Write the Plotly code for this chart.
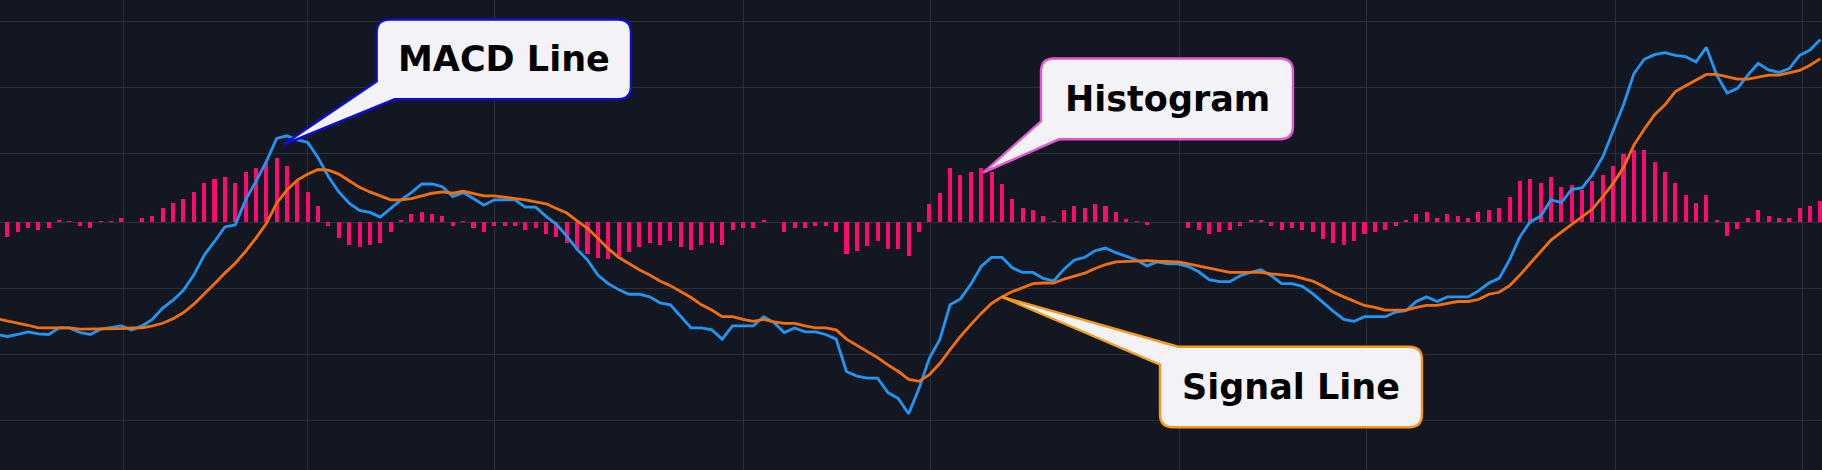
import plotly.graph_objects as go

# ---------------- data ----------------
line_index = list(range(-1, 176))
hist_index = list(range(0, 176))

macd_line = [
    -1.70, -1.73, -1.70, -1.66, -1.69, -1.70, -1.60, -1.60, -1.67, -1.70, -1.62,
    -1.59, -1.57, -1.63, -1.57, -1.47, -1.30, -1.18, -1.03, -0.80, -0.50,
    -0.29, -0.07, -0.04, 0.34, 0.62, 0.92, 1.27, 1.31, 1.25, 1.21,
    0.98, 0.69, 0.46, 0.29, 0.18, 0.15, 0.08, 0.21, 0.34, 0.45,
    0.58, 0.58, 0.54, 0.39, 0.45, 0.36, 0.26, 0.34, 0.34, 0.34,
    0.23, 0.23, 0.09, -0.03, -0.21, -0.41, -0.57, -0.80, -0.93, -1.02,
    -1.09, -1.09, -1.13, -1.22, -1.25, -1.42, -1.60, -1.60, -1.63, -1.77,
    -1.57, -1.57, -1.57, -1.43, -1.52, -1.67, -1.60, -1.66, -1.66, -1.70,
    -1.77, -2.26, -2.33, -2.36, -2.36, -2.58, -2.67, -2.90, -2.52, -2.06,
    -1.78, -1.25, -1.16, -0.94, -0.67, -0.53, -0.53, -0.69, -0.76, -0.76,
    -0.85, -0.89, -0.71, -0.57, -0.53, -0.43, -0.39, -0.46, -0.51, -0.57,
    -0.66, -0.60, -0.63, -0.63, -0.67, -0.75, -0.87, -0.90, -0.90, -0.81,
    -0.76, -0.72, -0.81, -0.93, -0.93, -0.97, -1.08, -1.22, -1.35, -1.47,
    -1.50, -1.43, -1.43, -1.43, -1.36, -1.34, -1.20, -1.13, -1.20, -1.13,
    -1.13, -1.13, -1.04, -0.92, -0.85, -0.57, -0.22, 0.01, 0.09, 0.34,
    0.30, 0.50, 0.52, 0.72, 0.99, 1.38, 1.78, 2.25, 2.47, 2.54,
    2.57, 2.53, 2.51, 2.43, 2.65, 2.23, 1.96, 2.03, 2.23, 2.41,
    2.31, 2.27, 2.33, 2.53, 2.61, 2.77,
]

signal_line = [
    -1.46, -1.49, -1.52, -1.56, -1.60, -1.60, -1.60, -1.60, -1.62, -1.62, -1.62,
    -1.62, -1.61, -1.60, -1.60, -1.57, -1.53, -1.46, -1.37, -1.24, -1.09,
    -0.93, -0.77, -0.62, -0.44, -0.24, -0.02, 0.29, 0.49, 0.64, 0.73,
    0.80, 0.79, 0.73, 0.63, 0.53, 0.46, 0.40, 0.34, 0.34, 0.36,
    0.40, 0.44, 0.46, 0.44, 0.47, 0.44, 0.40, 0.40, 0.38, 0.37,
    0.34, 0.31, 0.28, 0.21, 0.14, 0.02, -0.09, -0.24, -0.40, -0.53,
    -0.63, -0.72, -0.80, -0.89, -0.96, -1.05, -1.14, -1.25, -1.33, -1.43,
    -1.43, -1.47, -1.50, -1.47, -1.51, -1.53, -1.53, -1.57, -1.60, -1.60,
    -1.63, -1.77, -1.86, -1.95, -2.05, -2.16, -2.26, -2.38, -2.41, -2.31,
    -2.14, -1.93, -1.73, -1.55, -1.38, -1.23, -1.13, -1.05, -0.99, -0.93,
    -0.92, -0.92, -0.86, -0.81, -0.77, -0.70, -0.64, -0.60, -0.59, -0.58,
    -0.58, -0.59, -0.60, -0.60, -0.63, -0.66, -0.69, -0.73, -0.76, -0.76,
    -0.76, -0.76, -0.78, -0.79, -0.81, -0.85, -0.89, -0.97, -1.06, -1.13,
    -1.19, -1.26, -1.29, -1.33, -1.33, -1.33, -1.29, -1.26, -1.26, -1.23,
    -1.20, -1.20, -1.17, -1.09, -1.06, -0.96, -0.80, -0.62, -0.44, -0.27,
    -0.15, -0.03, 0.09, 0.20, 0.39, 0.59, 0.83, 1.17, 1.41, 1.63,
    1.78, 1.98, 2.07, 2.15, 2.24, 2.24, 2.21, 2.17, 2.17, 2.20,
    2.23, 2.23, 2.27, 2.30, 2.38, 2.48,
]

histogram = [
    -0.22, -0.14, -0.08, -0.12, -0.08, 0.03, 0.02, -0.05, -0.08, 0.02,
    0.02, 0.06, 0.00, 0.06, 0.10, 0.22, 0.29, 0.35, 0.46, 0.59,
    0.65, 0.68, 0.59, 0.76, 0.82, 0.91, 0.98, 0.85, 0.62, 0.46,
    0.25, -0.05, -0.24, -0.35, -0.38, -0.35, -0.31, -0.14, 0.03, 0.12,
    0.15, 0.12, 0.09, -0.05, 0.02, -0.08, -0.14, -0.05, -0.05, -0.05,
    -0.11, -0.08, -0.18, -0.22, -0.31, -0.42, -0.48, -0.54, -0.55, -0.51,
    -0.45, -0.38, -0.32, -0.35, -0.28, -0.38, -0.42, -0.35, -0.32, -0.35,
    -0.12, -0.08, -0.08, 0.03, 0.00, -0.14, -0.08, -0.09, -0.06, -0.06,
    -0.14, -0.48, -0.44, -0.36, -0.29, -0.41, -0.41, -0.51, -0.14, 0.28,
    0.45, 0.82, 0.72, 0.76, 0.82, 0.76, 0.58, 0.35, 0.21, 0.19,
    0.09, 0.02, 0.19, 0.25, 0.21, 0.28, 0.25, 0.15, 0.05, 0.02,
    -0.04, 0.00, 0.00, 0.00, -0.08, -0.11, -0.17, -0.14, -0.11, -0.05,
    0.03, 0.03, -0.05, -0.11, -0.08, -0.12, -0.14, -0.25, -0.32, -0.35,
    -0.28, -0.18, -0.14, -0.11, -0.05, 0.03, 0.13, 0.16, 0.06, 0.13,
    0.09, 0.06, 0.16, 0.19, 0.22, 0.38, 0.62, 0.65, 0.59, 0.69,
    0.53, 0.56, 0.49, 0.62, 0.72, 0.86, 1.03, 1.09, 1.09, 0.92,
    0.76, 0.59, 0.42, 0.29, 0.42, 0.03, -0.20, -0.10, 0.06, 0.19,
    0.09, 0.06, 0.06, 0.22, 0.25, 0.32,
]

x_grid_vals = [11.2, 29.0, 47.0, 71.1, 89.1, 113.1, 131.2, 155.2, 173.25]
y_grid_vals = [-3, -2, -1, 0, 1.035, 2.035, 3.04]

callout_labels = ["MACD Line", "Histogram", "Signal Line"]
callout_colors = ["#0d0dd0", "#e458cf", "#f59a1c"]

# ---------------- layout constants ----------------
W, H = 1822, 470
X_RANGE = [-0.705, 175.16]
Y_RANGE = [-3.753, 3.368]
BG = "#131722"
GRID = "#2a2e39"


def px_of(x):
    return (x - X_RANGE[0]) / (X_RANGE[1] - X_RANGE[0]) * W


def py_of(y):
    return (Y_RANGE[1] - y) / (Y_RANGE[1] - Y_RANGE[0]) * H


def to_paper(p):
    return p[0] / W, 1 - p[1] / H


def callout_path(box, tip, corner, r=13, d=18):
    L, T, R, B = box
    pts = []
    if corner == "bottom-left":
        seq = [
            ("M", (L + r, T)), ("L", (R - r, T)), ("Q", (R, T), (R, T + r)),
            ("L", (R, B - r)), ("Q", (R, B), (R - r, B)),
            ("L", (L + d, B)), ("L", tip), ("L", (L, B - d)),
            ("L", (L, T + r)), ("Q", (L, T), (L + r, T)),
        ]
    else:  # top-left
        seq = [
            ("M", (L + d, T)), ("L", (R - r, T)), ("Q", (R, T), (R, T + r)),
            ("L", (R, B - r)), ("Q", (R, B), (R - r, B)),
            ("L", (L + r, B)), ("Q", (L, B), (L, B - r)),
            ("L", (L, T + d)), ("L", tip),
        ]
    for item in seq:
        cmd = item[0]
        coords = " ".join("%.5f,%.5f" % to_paper(p) for p in item[1:])
        pts.append(cmd + " " + coords)
    return " ".join(pts) + " Z"


fig = go.Figure()

fig.add_trace(go.Bar(
    x=hist_index, y=histogram, width=0.39,
    marker=dict(color="#ff0a6e", line=dict(width=0)),
    name="Histogram",
))
fig.add_trace(go.Scatter(
    x=line_index, y=macd_line, mode="lines",
    line=dict(color="#2196f3", width=2.8), name="MACD Line",
))
fig.add_trace(go.Scatter(
    x=line_index, y=signal_line, mode="lines",
    line=dict(color="#f46f0c", width=2.8), name="Signal Line",
))

# callout anchors derived from data points
macd_i = line_index.index(27)
hist_i = hist_index.index(94)
sig_i = line_index.index(96)
tips = [
    (px_of(line_index[macd_i]) - 4, py_of(macd_line[macd_i]) + 9),
    (px_of(hist_index[hist_i]) + 2, py_of(histogram[hist_i]) + 4.5),
    (px_of(line_index[sig_i]), py_of(signal_line[sig_i])),
]
boxes = [
    (376.7, 19.5, 631.0, 99.3),
    (1041.0, 58.5, 1293.0, 139.3),
    (1160.0, 346.7, 1422.0, 427.3),
]
corners = ["bottom-left", "bottom-left", "top-left"]

shapes = []
annotations = []
for label, color, box, tip, corner in zip(callout_labels, callout_colors, boxes, tips, corners):
    shapes.append(dict(
        type="path", xref="paper", yref="paper", layer="above",
        path=callout_path(box, tip, corner),
        fillcolor="#f3f2f7", line=dict(color=color, width=2.4),
    ))
    cx = (box[0] + box[2]) / 2
    cy = (box[1] + box[3]) / 2
    px_, py_ = to_paper((cx, cy))
    annotations.append(dict(
        x=px_, y=py_, xref="paper", yref="paper", text=label, showarrow=False,
        xanchor="center", yanchor="middle",
        font=dict(family="DejaVu Sans", size=35, color="#000000", weight="bold"),
    ))

fig.update_layout(
    width=W, height=H,
    margin=dict(l=0, r=0, t=0, b=0),
    paper_bgcolor=BG, plot_bgcolor=BG,
    showlegend=False,
    bargap=0,
    shapes=shapes,
    annotations=annotations,
    xaxis=dict(range=X_RANGE, tickvals=x_grid_vals, showticklabels=False,
               showgrid=True, gridcolor=GRID, gridwidth=1, zeroline=False,
               showline=False, ticks=""),
    yaxis=dict(range=Y_RANGE, tickvals=y_grid_vals, showticklabels=False,
               showgrid=True, gridcolor=GRID, gridwidth=1, zeroline=False,
               showline=False, ticks=""),
)

fig.write_html(
    "out.html",
    config={"displayModeBar": False, "staticPlot": True},
    post_script="document.body.style.margin='0';document.body.style.overflow='hidden';"
                "document.body.style.background='" + BG + "';",
)
